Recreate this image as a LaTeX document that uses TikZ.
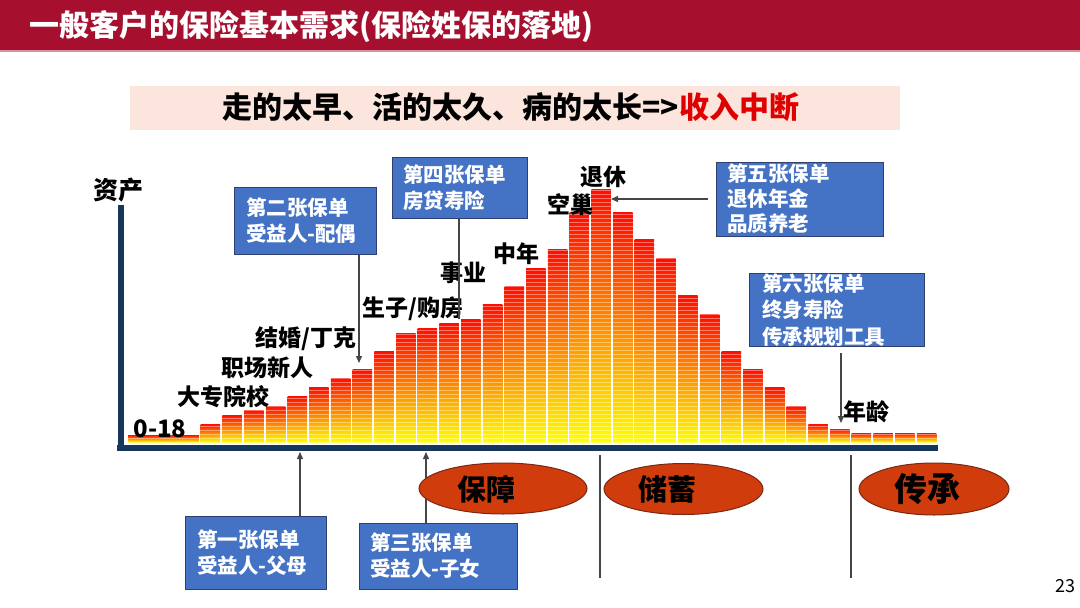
\documentclass[tikz,border=0pt]{standalone}
\usepackage{fontspec}
\setmainfont{Noto Sans CJK SC}
\usetikzlibrary{shapes.geometric,arrows.meta}
\definecolor{titlered}{RGB}{166,16,46}
\definecolor{bandpeach}{RGB}{251,229,220}
\definecolor{boxblue}{RGB}{68,114,196}
\definecolor{boxline}{RGB}{47,64,112}
\definecolor{phasefill}{RGB}{208,60,12}
\definecolor{phaseline}{RGB}{120,40,20}
\definecolor{axisnavy}{RGB}{22,54,92}
\definecolor{subred}{RGB}{225,0,0}
\definecolor{linkgray}{RGB}{70,70,70}
\tikzset{
  policy/.style={draw=boxline,fill=boxblue,line width=1pt,text=white,
    font=\bfseries\fontsize{20.5}{26}\selectfont,align=left,inner xsep=12pt,inner ysep=0pt},
  stage/.style={font=\bfseries\fontsize{23}{26}\selectfont},
  phase/.style={ellipse,draw=phaseline,fill=phasefill,line width=1pt,minimum height=51pt},
  phasetext/.style={font=\bfseries\fontsize{29}{32}\selectfont},
  bar/.style={top color=red!90!orange,middle color=orange!85!yellow,bottom color=yellow},
  link/.style={draw=linkgray,line width=1.3pt},
  tip/.style={link,-{Triangle[length=7pt,width=6pt]}}
}

\begin{document}
\begin{tikzpicture}[x=1pt,y=-1pt]
\useasboundingbox (0,0) rectangle (1080,608);
% title bar
\fill[titlered] (0,0) rectangle (1080,50);
\draw[titlered!45!white,line width=2pt] (0,51) -- (1080,51);
\node[anchor=west,text=white,font=\bfseries\fontsize{30}{34}\selectfont] (title) at (26,27) {一般客户的保险基本需求(保险姓保的落地)};
% slogan
\fill[bandpeach] (130,86) rectangle (900,130);
\node[font=\bfseries\fontsize{30}{34}\selectfont] (slogan) at (511,107) {走的太早、活的太久、病的太长=>\textcolor{subred}{收入中断}};

% bars
\shade[bar] (128,442) rectangle (199,435);
\foreach \t [count=\i] in {424,415,410,406,396,387,378,369,351,333,328,323,319,304,286,268,249,
  212,189,212,239,258,295,314,351,369,387,406,424,429,433,433,433,433}
  \shade[bar] ({200.7+(\i-1)*21.7},442) rectangle ({200.7+(\i-1)*21.7+19.5},\t);
\foreach \y in {190,194,...,442}
  \draw[white,opacity=.4,line width=.6pt] (125,\y) -- (937,\y);

% axes
\draw[axisnavy,line width=6pt] (120.5,205) -- (120.5,451);
\draw[axisnavy,line width=6pt] (117,448) -- (938,448);

% stages
\node[stage,font=\bfseries\fontsize{25}{28}\selectfont] (asset) at (118,190) {资产};
\node[font=\bfseries\fontsize{24}{26}\selectfont] (kid) at (160,429) {0-18};
\node[stage] (school) at (223,397) {大专院校};
\node[stage] (job) at (267,368) {职场新人};
\node[stage] (wed) at (306,339) {结婚/丁克};
\node[stage] (home) at (413,309) {生子/购房};
\node[stage] (career) at (463,273) {事业};
\node[stage] (midage) at (516,254) {中年};
\node[stage] (nest) at (570,205) {空巢};
\node[stage] (retire) at (603,177) {退休};
\node[stage] (age) at (866,412) {年龄};

% policies
\node[policy,minimum width=141pt,text width=117pt,minimum height=73pt] (p1) at (255.5,552.5) {第一张保单\\受益人-父母};
\node[policy,minimum width=142pt,text width=118pt,minimum height=67pt] (p2) at (305,220.5) {第二张保单\\受益人-配偶};
\node[policy,minimum width=158pt,text width=136pt,minimum height=66pt,inner xsep=11pt] (p3) at (438,556) {第三张保单\\受益人-子女};
\node[policy,minimum width=135pt,text width=113pt,minimum height=61pt,inner xsep=11pt] (p4) at (459.5,187.5) {第四张保单\\房贷寿险};
\node[policy,minimum width=167pt,text width=145pt,minimum height=74pt,inner xsep=11pt,font=\bfseries\fontsize{20.5}{25}\selectfont] (p5) at (799.5,199) {第五张保单\\退休年金\\品质养老};
\node[policy,minimum width=175pt,text width=149pt,minimum height=73pt,inner xsep=13pt,font=\bfseries\fontsize{20.5}{26.5}\selectfont] (p6) at (836.5,310) {第六张保单\\终身寿险\\传承规划工具};

\coordinate (a1) at (300,452);
\coordinate (a2) at (359,363);
\coordinate (a3) at (426,452);
\coordinate (a4) at (459,319);
\coordinate (a5) at (611,199);
\coordinate (a6) at (841,423);
\draw[tip] (a1 |- p1.north) -- (a1);
\draw[tip] (a2 |- p2.south) -- (a2);
\draw[tip] (a3 |- p3.north) -- (a3);
\draw[link] (a4 |- p4.south) -- (a4);
\draw[tip,shorten <=8pt] (p5.west) -- (a5);
\draw[tip,shorten <=6pt] (a6 |- p6.south) -- (a6);

% phases
\coordinate (s1t) at (600,455);
\coordinate (s1b) at (600,578);
\coordinate (s2t) at (851,455);
\coordinate (s2b) at (851,578);
\draw[link,line width=1.1pt] (s1t) -- (s1b);
\draw[link,line width=1.1pt] (s2t) -- (s2b);
\node[phase,minimum width=168pt] (guard) at (503,488.5) {};
\node[phase,minimum width=159pt] (save) at (683.5,489) {};
\node[phase,minimum width=150pt,minimum height=52pt] (pass) at (934,489) {};
\node[phasetext] (guardt) at (486,489) {保障};
\node[phasetext] (savet) at (667,489) {储蓄};
\node[phasetext,font=\bfseries\fontsize{33}{36}\selectfont] (passt) at (927,489) {传承};

\node[font=\fontsize{18}{20}\selectfont] (page) at (1065,586) {23};
\end{tikzpicture}
\end{document}
